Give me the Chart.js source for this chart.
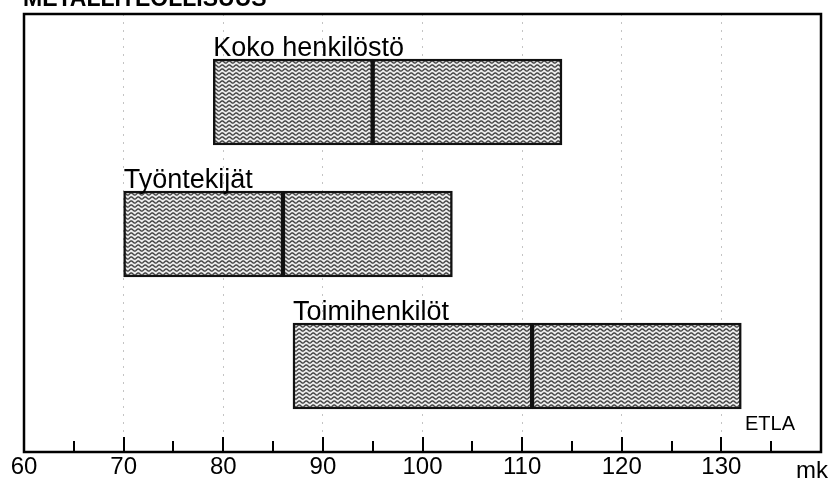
<!DOCTYPE html>
<html>
<head>
<meta charset="utf-8">
<script src="https://cdn.jsdelivr.net/npm/chart.js@4.4.1/dist/chart.umd.min.js"></script>
<style>
  body { margin: 0; background: #fff; }
  #wrap { width: 831px; height: 483px; position: relative; }
</style>
</head>
<body>
<div id="wrap"><canvas id="wageChart"></canvas></div>
<script>
"use strict";
// data (mk)
var categories = ["Koko henkilöstö", "Työntekijät", "Toimihenkilöt"];
var lowValues = [79, 70, 87];
var medianValues = [95, 86, 111];
var highValues = [114, 103, 132];
var tickLabels = [60, 70, 80, 90, 100, 110, 120, 130];
var titleText = "METALLITEOLLISUUS";
var unitText = "mk";
var sourceText = "ETLA";

var FONT = "'Liberation Sans', Arial, Helvetica, sans-serif";

// wavy grey fill like the scanned print
function makeWave() {
    var c = document.createElement("canvas");
    c.width = 7;
    c.height = 4;
    var g = c.getContext("2d");
    g.fillStyle = "#ececec";
    g.fillRect(0, 0, 7, 4);
    g.strokeStyle = "#404040";
    g.lineWidth = 1.4;
    g.beginPath();
    for (var x = -1; x <= 8; x += 0.5) {
        var y = 2 + 1.1 * Math.sin(2 * Math.PI * x / 7);
        if (x === -1) g.moveTo(x, y); else g.lineTo(x, y);
    }
    g.stroke();
    return g.createPattern(c, "repeat");
}
var wave = makeWave();

var lowerPart = categories.map(function (c, i) {
    return { y: i, x: [lowValues[i], medianValues[i]] };
});
var upperPart = categories.map(function (c, i) {
    return { y: i, x: [medianValues[i], highValues[i]] };
});

var framePlugin = {
    id: "frame",
    afterDatasetsDraw: function (chart) {
        var ctx = chart.ctx;
        var a = chart.chartArea;
        var xs = chart.scales.x;
        ctx.save();

        // category names over the boxes
        var meta = chart.getDatasetMeta(0);
        ctx.fillStyle = "#000";
        ctx.font = "27px " + FONT;
        ctx.textAlign = "left";
        ctx.textBaseline = "alphabetic";
        meta.data.forEach(function (bar, i) {
            var left = Math.min(bar.x, bar.base);
            var top = bar.y - bar.height / 2;
            ctx.fillText(categories[i], left, top - 3);
        });

        // inner tick marks on the bottom axis
        ctx.strokeStyle = "#000";
        ctx.lineWidth = 2;
        xs.ticks.forEach(function (t) {
            if (t.value <= xs.min || t.value >= xs.max) return;
            var px = Math.round(xs.getPixelForValue(t.value));
            var len = t.value % 10 === 0 ? 15 : 11;
            ctx.beginPath();
            ctx.moveTo(px, a.bottom);
            ctx.lineTo(px, a.bottom - len);
            ctx.stroke();
        });

        // frame
        ctx.lineWidth = 2.5;
        ctx.strokeRect(a.left, a.top, a.right - a.left, a.bottom - a.top);

        // title (cut at the top edge as in the scan)
        ctx.font = "bold 23px " + FONT;
        ctx.fillText(titleText, 23, 6);

        ctx.font = "20px " + FONT;
        ctx.fillText(sourceText, 745, 430);

        ctx.font = "24px " + FONT;
        ctx.textAlign = "right";
        ctx.fillText(unitText, 828, 478);
        ctx.restore();
    }
};

var CHART = document.getElementById("wageChart");
var wageChart = new Chart(CHART, {
    type: "bar",
    plugins: [framePlugin],
    data: {
        datasets: [
            {
                label: "alakvartiili - mediaani",
                data: lowerPart,
                backgroundColor: wave,
                borderColor: "#111",
                borderWidth: 2.5,
                borderSkipped: false,
                barThickness: 86,
                grouped: false,
            },
            {
                label: "mediaani - yläkvartiili",
                data: upperPart,
                backgroundColor: wave,
                borderColor: "#111",
                borderWidth: 2.5,
                borderSkipped: false,
                barThickness: 86,
                grouped: false,
            },
        ],
    },
    options: {
        indexAxis: "y",
        responsive: true,
        maintainAspectRatio: false,
        animation: false,
        layout: {
            padding: { left: 24, right: 10, top: 14, bottom: 1 },
        },
        plugins: {
            legend: { display: false },
            tooltip: { enabled: false },
            title: { display: false },
        },
        scales: {
            x: {
                type: "linear",
                min: 60,
                max: 140,
                grid: {
                    drawTicks: false,
                    lineWidth: 1,
                    color: function (c) {
                        var v = c.tick ? c.tick.value : 0;
                        return v % 10 === 0 && v > 60 && v < 140 ? "#c4c4c4" : "rgba(0,0,0,0)";
                    },
                },
                border: { display: false, dash: [2, 6] },
                ticks: {
                    stepSize: 5,
                    padding: 3,
                    maxRotation: 0,
                    autoSkip: false,
                    color: "#000",
                    font: { family: FONT, size: 24, lineHeight: 1 },
                    callback: function (v) {
                        return tickLabels.indexOf(v) >= 0 ? String(v) : "";
                    },
                },
            },
            y: {
                type: "linear",
                reverse: true,
                offset: false,
                min: -0.667,
                max: 2.652,
                display: false,
            },
        },
    },
});
</script>
</body>
</html>
